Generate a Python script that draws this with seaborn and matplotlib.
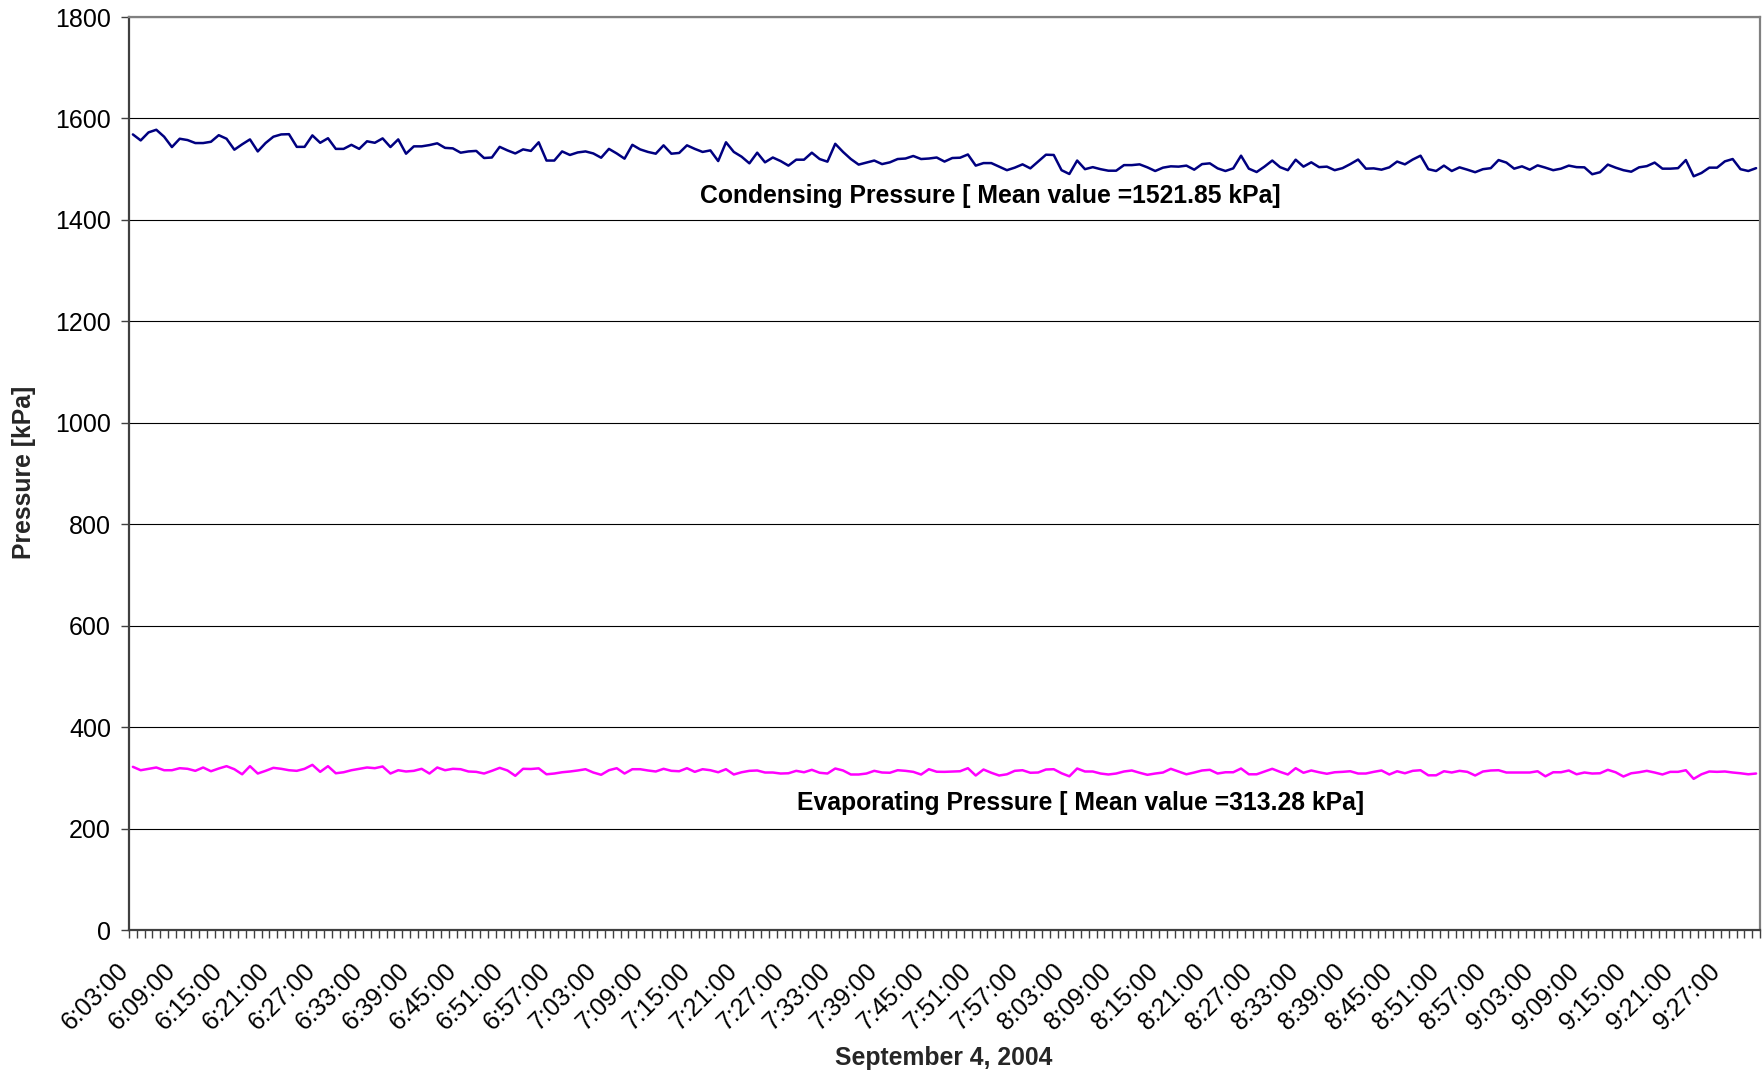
import numpy as np
import pandas as pd
import matplotlib
matplotlib.use("Agg")
import matplotlib.pyplot as plt
import matplotlib.transforms as mtransforms
import seaborn as sns

# ---- data: one reading per minute, starting 6:03:00 ----
start_time = "2004-09-04 06:03:00"

condensing_kpa = [
    1568.5, 1556.7, 1572.5, 1577.7, 1564, 1543.6, 1560, 1557.4, 1551.5, 1551.5,
    1554, 1567, 1560, 1538.4, 1549, 1558.7, 1535, 1551.5, 1564, 1568.5,
    1569, 1544, 1544, 1566.6, 1552, 1561, 1540, 1540, 1548, 1540,
    1555, 1552, 1560.7, 1543.6, 1558.7, 1530.5, 1545, 1545, 1547.5, 1551,
    1542, 1541, 1532.5, 1535, 1536, 1522, 1523, 1544, 1537, 1531,
    1539, 1536, 1553, 1517, 1517, 1535, 1528, 1533, 1535, 1531,
    1522.6, 1540, 1531, 1520.7, 1548, 1539, 1534, 1530.5, 1547, 1530.5,
    1532, 1547, 1540, 1534, 1537, 1516, 1553, 1534, 1524.6, 1511.5,
    1532.5, 1513.5, 1523, 1516, 1507, 1518.7, 1518.7, 1532.5, 1520, 1514.8,
    1550, 1534, 1520, 1509, 1513, 1517, 1510, 1513.5, 1520, 1521,
    1526, 1520, 1521, 1523, 1515, 1522, 1522.6, 1529, 1507, 1512,
    1512, 1505, 1498, 1503, 1509.5, 1501.6, 1515, 1528.5, 1528, 1498,
    1490.5, 1517, 1500, 1504, 1500, 1497, 1497, 1508, 1508, 1509.5,
    1503.6, 1496.4, 1503, 1505.6, 1505, 1507, 1499, 1510, 1511.5, 1501.6,
    1496.4, 1501.6, 1526.6, 1501, 1494.4, 1505, 1517, 1504, 1498, 1518.7,
    1505, 1513.5, 1504, 1505, 1498, 1502, 1510, 1519, 1501, 1501.6,
    1499, 1503.6, 1515, 1509.5, 1519, 1526.6, 1500, 1496.4, 1507, 1496.4,
    1503.6, 1499, 1494, 1500, 1502, 1518, 1513, 1501, 1505.6, 1499,
    1507.5, 1503, 1498, 1501, 1507, 1504, 1503.6, 1490, 1494, 1509,
    1503, 1498, 1495, 1503.6, 1506, 1513, 1501, 1501, 1502, 1518,
    1486, 1492.5, 1503, 1503, 1515.4, 1520, 1500, 1496.4, 1502,
]

evaporating_kpa = [
    321.7, 315, 317.8, 320.4, 315, 315, 319, 317.8, 313.8, 320.4,
    313, 318.4, 323, 317, 307, 323, 308.5, 313.8, 319.7, 317.8,
    315, 313.8, 317.8, 325.6, 311.8, 323, 309, 311, 315, 317.8,
    320.4, 319, 322.4, 308.5, 315, 312.5, 313.8, 317.8, 308.5, 320.4,
    315, 317.8, 317, 312.5, 311.8, 308.5, 313.8, 319.7, 314.5, 304,
    317.8, 317.4, 318.7, 307, 308.5, 311, 312.5, 314.5, 317, 310.5,
    306, 315, 319, 308.5, 317, 317, 314.5, 312.5, 317.8, 313.8,
    313, 319, 311.8, 317, 315, 311, 317, 306.6, 311, 313.8,
    314.5, 310.5, 310.5, 308.5, 309, 313.8, 311, 315.8, 310, 308.5,
    318.4, 314.5, 306.6, 306.6, 308.5, 313.8, 310.5, 310, 315, 313.8,
    311.8, 306.5, 317, 312, 311.8, 312.5, 313, 319, 304.6, 316.4,
    310, 304.6, 307, 313.8, 315, 310, 310.5, 316.4, 317, 309,
    303, 318.4, 312.5, 312.5, 308.5, 306.6, 308.5, 312.5, 314.5, 310,
    306, 308.5, 310.5, 317.8, 312.5, 307, 310.5, 314.5, 315.8, 308.5,
    311, 311, 318.4, 307, 307, 312.5, 317.8, 311.8, 306.6, 319,
    310, 314.5, 311, 308, 311, 311.8, 313, 308.5, 308.5, 311.8,
    314.5, 306.6, 313, 309, 313.8, 315, 305, 305, 313, 310.5,
    313.8, 311.8, 304.6, 312.5, 314.5, 315, 310.5, 310.5, 310.5, 310.5,
    313, 303, 311, 311, 314.5, 307, 310.5, 308.5, 309, 315.8,
    311, 302.6, 309, 311, 313.8, 310.5, 306.6, 311.8, 311.8, 315,
    298, 307, 312.5, 311.8, 312.5, 310.5, 309, 307, 308.5,
]

tick_labels = [
    "6:03:00", "6:09:00", "6:15:00", "6:21:00", "6:27:00", "6:33:00", "6:39:00",
    "6:45:00", "6:51:00", "6:57:00", "7:03:00", "7:09:00", "7:15:00", "7:21:00",
    "7:27:00", "7:33:00", "7:39:00", "7:45:00", "7:51:00", "7:57:00", "8:03:00",
    "8:09:00", "8:15:00", "8:21:00", "8:27:00", "8:33:00", "8:39:00", "8:45:00",
    "8:51:00", "8:57:00", "9:03:00", "9:09:00", "9:15:00", "9:21:00", "9:27:00",
]

y_ticks = [0, 200, 400, 600, 800, 1000, 1200, 1400, 1600, 1800]

condensing_label = "Condensing Pressure [ Mean value =1521.85 kPa]"
evaporating_label = "Evaporating Pressure [ Mean value =313.28 kPa]"
x_title = "September 4, 2004"
y_title = "Pressure [kPa]"

# ---- tidy table ----
times = pd.date_range(start_time, periods=len(condensing_kpa), freq="min")
time_str = [f"{t.hour}:{t.minute:02d}:00" for t in times]
df = pd.DataFrame({
    "sample": np.arange(len(times)),
    "time": time_str,
    "Condensing": condensing_kpa,
    "Evaporating": evaporating_kpa,
})
long_df = df.melt(id_vars=["sample", "time"], var_name="series",
                  value_name="pressure")

# ---- figure ----
sns.set_theme(style="white")
plt.rcParams["font.family"] = ["Liberation Sans", "DejaVu Sans"]

fig = plt.figure(figsize=(17.62, 10.73), dpi=100)
ax = fig.add_axes([0.07321, 0.13327, 0.92565, 0.85088])

sns.lineplot(data=long_df, x="sample", y="pressure", hue="series",
             palette={"Condensing": "#000080", "Evaporating": "#FF00FF"},
             linewidth=1.8, legend=False, ax=ax)

n = len(df)
ax.set_xlim(-0.5, n - 0.5)
ax.set_ylim(0, 1800)

# horizontal gridlines
ax.set_yticks(y_ticks)
ax.yaxis.grid(True, color="black", linewidth=0.8)
ax.xaxis.grid(False)
ax.set_axisbelow(True)
ax.tick_params(axis="y", which="major", left=True, length=6, width=1,
               color="#404040", pad=7, labelsize=18, labelcolor="black")

# category boundaries as tick marks, labels every 6 minutes
ax.set_xticks(np.arange(-0.5, n, 1.0), minor=True)
label_pos = [time_str.index(lbl) for lbl in tick_labels]
ax.set_xticks(label_pos)
ax.set_xticklabels(tick_labels, rotation=45, ha="right", va="center",
                   rotation_mode="anchor")
ax.tick_params(axis="x", which="minor", bottom=True, length=6, width=1,
               color="#404040")
ax.tick_params(axis="x", which="major", bottom=False, length=0, pad=0,
               labelsize=18, labelcolor="black")
offset = mtransforms.ScaledTranslation(-8 / 100, -37 / 100, fig.dpi_scale_trans)
for lab in ax.get_xticklabels():
    lab.set_transform(lab.get_transform() + offset)

ax.set_xlabel("")
ax.set_ylabel("")

for side in ("left", "bottom"):
    ax.spines[side].set_color("#404040")
    ax.spines[side].set_linewidth(1.6)
for side in ("top", "right"):
    ax.spines[side].set_color("#808080")
    ax.spines[side].set_linewidth(1.6)

# series annotations
ax.text(109.9, 1447, condensing_label, ha="center", va="center",
        fontsize=17.8, fontweight="bold", color="black")
ax.text(121.5, 250, evaporating_label, ha="center", va="center",
        fontsize=17.8, fontweight="bold", color="black")

fig.text(944 / 1762, 1 - 1058 / 1073, x_title, ha="center", va="center",
         fontsize=17.8, fontweight="bold")
fig.text(24 / 1762, 1 - 472 / 1073, y_title, ha="center", va="center",
         rotation=90, fontsize=17.8, fontweight="bold")

fig.savefig("out.png", dpi=100)
